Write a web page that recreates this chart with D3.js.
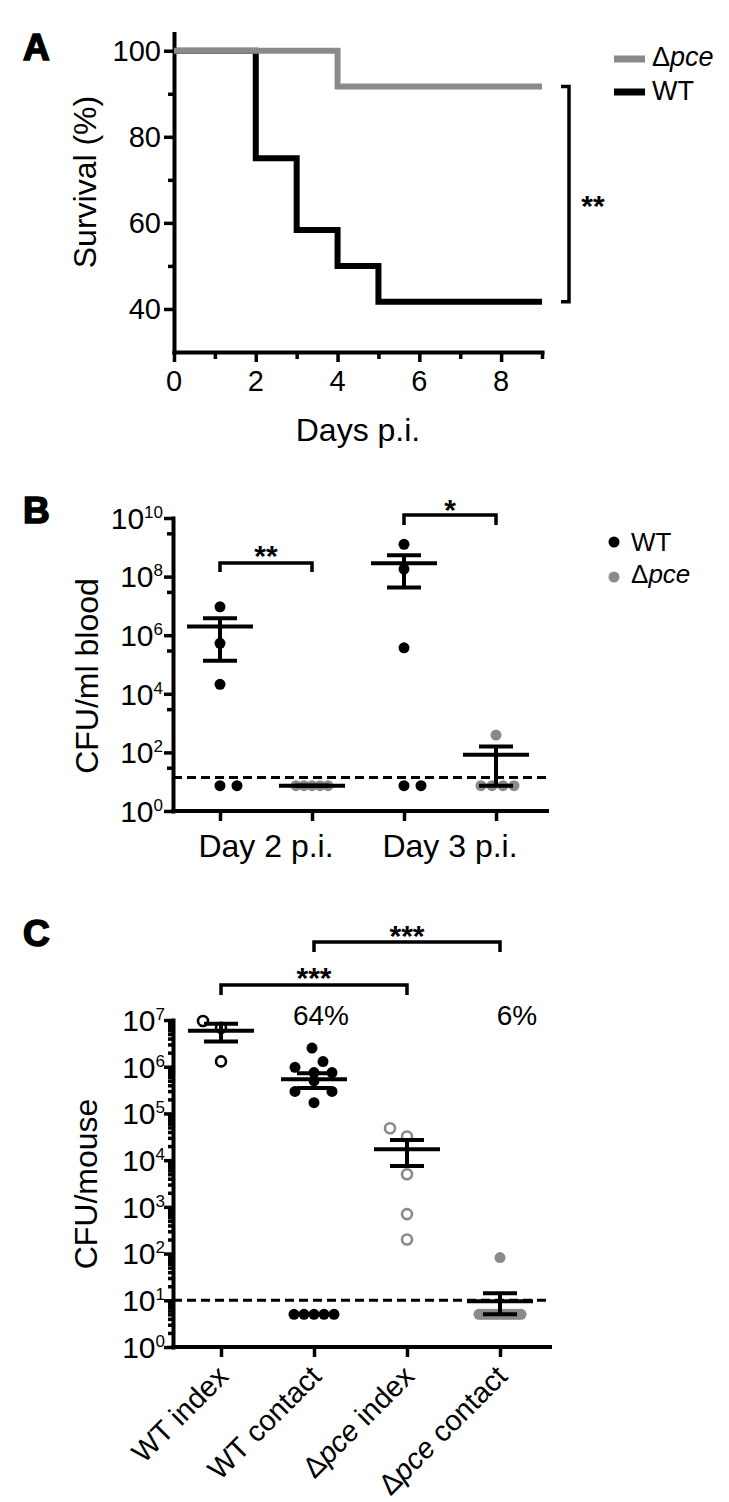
<!DOCTYPE html>
<html><head><meta charset="utf-8">
<script src="https://cdn.jsdelivr.net/npm/d3@7"></script>
<style>
body{margin:0;background:#fff;}
svg text{font-family:"Liberation Sans", Arial, Helvetica, sans-serif; fill:#000;}
</style></head><body>
<svg id="chart" width="729" height="1502"></svg>
<script>
// ================= DATA =================
// Panel A – survival (%)
const survWTDays  = [0, 2, 3, 4, 5, 9];
const survWT      = [100, 75, 58.33, 50, 41.67, 41.67];
const survPceDays = [0, 4, 9];
const survPce     = [100, 91.67, 91.67];
const survXTicks  = [0, 2, 4, 6, 8];
const survXMinor  = [1, 3, 5, 7, 9];
const survYTicks  = [40, 60, 80, 100];
const survYMinor  = [50, 70, 90];

// Panel B – CFU/ml blood
const bloodGroups   = ["Day 2 WT", "Day 2 Δpce", "Day 3 WT", "Day 3 Δpce"];
const bloodDay2WT   = [9.3e6, 5.3e5, 2.1e4, 7.3, 7.3];
const bloodDay2Pce  = [7.3, 7.3, 7.3, 7.3, 7.3];
const bloodDay3WT   = [1.26e9, 1.8e8, 3.7e5, 7.3, 7.3];
const bloodDay3Pce  = [390, 7.3, 7.3, 7.3, 7.3];
const bloodDayLabels = ["Day 2 p.i.", "Day 3 p.i."];
const bloodLimit    = 14;
const bloodMajor    = [1, 1e2, 1e4, 1e6, 1e8, 1e10];
const bloodMinor    = [3e1, 3e3, 3e5, 3e7, 3e9];

// Panel C – CFU/mouse
const mouseGroups     = ["WT index", "WT contact", "Δpce index", "Δpce contact"];
const mouseWTIndex    = [9.5e6, 6.8e6, 1.3e6];
const mouseWTContact  = [2.5e6, 1.29e6, 9.7e5, 7.5e5, 7.5e5, 5e5, 2.95e5, 2.95e5, 1.7e5, 5, 5, 5, 5, 5];
const mousePceIndex   = [4.8e4, 3.2e4, 5e3, 700, 200];
const mousePceContact = [82, 5, 5, 5, 5, 5, 5, 5, 5, 5, 5, 5, 5, 5, 5, 5, 5];
const mousePercent    = ["", "64%", "", "6%"];
const mouseLimit      = 10;
const mouseMajor      = [1, 1e1, 1e2, 1e3, 1e4, 1e5, 1e6, 1e7];

// ================= LAYOUT (jitter offsets in px) =================
const jitB = [[0,0,0,0,17],[-16,-8,0,8,16],[0,0,0,0,17],[0,-15,-4,7,18]];
const jitC = [[-18,0,0],
              [-2,9,-19,0,18,0,-19,18,0,-20,-10,0,10,20],
              [-17,0,0,0,0],
              [0].concat(d3.range(16).map(i => -21 + i*2.8))];

const GRAY = "#8a8a8a";
const svg = d3.select("#chart");

function styleAxis(a, keepDomain) {
  a.selectAll("text").remove();
  if (keepDomain) a.select(".domain").attr("stroke-width", 4).attr("stroke-linecap", "square");
  else a.select(".domain").remove();
  a.selectAll(".tick line").attr("stroke-width", 3.5);
}
function txt(g, x, y, s, size, anchor, weight) {
  return g.append("text").attr("x", x).attr("y", y).attr("text-anchor", anchor || "start")
    .style("font-size", size + "px").style("font-weight", weight || "normal").text(s);
}
function pceText(g, x, y, size, anchor, suffix) {
  const t = g.append("text").attr("x", x).attr("y", y).attr("text-anchor", anchor || "start")
    .style("font-size", size + "px");
  t.append("tspan").text("Δ");
  t.append("tspan").style("font-style", "italic").text("pce");
  if (suffix) t.append("tspan").text(suffix);
  return t;
}
function logLabels(g, y, vals, xRight) {
  vals.forEach(v => {
    const e = Math.round(Math.log10(v));
    const t = g.append("text").attr("x", xRight).attr("y", y(v)).attr("dy", "0.36em")
      .attr("text-anchor", "end").style("font-size", "30px");
    t.append("tspan").text("10");
    t.append("tspan").attr("dy", -11).style("font-size", "17px").text(e);
  });
}
function bracket(g, x1, x2, y, leg) {
  g.append("path").attr("d", `M${x1},${y+leg}V${y}H${x2}V${y+leg}`)
    .attr("fill", "none").attr("stroke", "#000").attr("stroke-width", 3.5);
}
function dots(g, x0, y, vals, offs, color, open) {
  g.selectAll(null).data(vals).join("circle")
    .attr("cx", (d, i) => x0 + offs[i]).attr("cy", d => y(d))
    .attr("r", open ? 5 : 5.5)
    .attr("fill", open ? "#fff" : color)
    .attr("stroke", open ? color : "none").attr("stroke-width", open ? 2.6 : 0);
}
function meanSem(g, x0, y, vals) {
  const m = d3.mean(vals), s = d3.deviation(vals) / Math.sqrt(vals.length);
  const hi = m + s, lo = Math.max(m - s, 1);
  const ln = (x1, y1, x2, y2) => g.append("line").attr("x1", x1).attr("y1", y1).attr("x2", x2).attr("y2", y2)
    .attr("stroke", "#000").attr("stroke-width", 4);
  ln(x0, y(hi), x0, y(lo));
  ln(x0 - 17, y(hi), x0 + 17, y(hi));
  ln(x0 - 17, y(lo), x0 + 17, y(lo));
  ln(x0 - 33, y(m), x0 + 33, y(m));
}

// ================= PANEL LETTERS =================
[["A", 60], ["B", 523], ["C", 946]].forEach(([l, yy]) =>
  txt(svg, 23, yy, l, 37, "start", "bold").attr("stroke", "#000").attr("stroke-width", 1.6));

// ================= PANEL A =================
{
  const g = svg.append("g");
  const x = d3.scaleLinear().domain([0, 9]).range([174, 542]);
  const y = d3.scaleLinear().domain([30, 104]).range([352, 33.5]);

  styleAxis(g.append("g").attr("transform", "translate(0,352)")
    .call(d3.axisBottom(x).tickValues(survXMinor).tickSize(7).tickSizeOuter(0)), false);
  styleAxis(g.append("g").attr("transform", "translate(0,352)")
    .call(d3.axisBottom(x).tickValues(survXTicks).tickSize(10).tickSizeOuter(0)), true);
  styleAxis(g.append("g").attr("transform", "translate(174,0)")
    .call(d3.axisLeft(y).tickValues(survYMinor).tickSize(6).tickSizeOuter(0)), false);
  styleAxis(g.append("g").attr("transform", "translate(174,0)")
    .call(d3.axisLeft(y).tickValues(survYTicks).tickSize(10).tickSizeOuter(0)), true);

  survXTicks.forEach(v => txt(g, x(v), 391, v, 29, "middle"));
  survYTicks.forEach(v => txt(g, 161, y(v), v, 29, "end").attr("dy", "0.36em"));

  txt(g, 358, 441, "Days p.i.", 32, "middle");
  g.append("text").attr("transform", "translate(96,182) rotate(-90)").attr("text-anchor", "middle")
    .style("font-size", "32px").text("Survival (%)");

  const line = d3.line().x(d => x(d[0])).y(d => y(d[1])).curve(d3.curveStepAfter);
  g.append("path").attr("d", line(d3.zip(survWTDays, survWT)))
    .attr("fill", "none").attr("stroke", "#000").attr("stroke-width", 6);
  g.append("path").attr("d", line(d3.zip(survPceDays, survPce)))
    .attr("fill", "none").attr("stroke", GRAY).attr("stroke-width", 6);

  // significance bracket
  g.append("path").attr("d", `M561,${y(survPce[2])}H569V${y(survWT[5])}H561`)
    .attr("fill", "none").attr("stroke", "#000").attr("stroke-width", 3.5);
  txt(g, 593, 216, "**", 30, "middle", "bold");

  // legend
  g.append("line").attr("x1", 614).attr("x2", 645).attr("y1", 59).attr("y2", 59)
    .attr("stroke", GRAY).attr("stroke-width", 7);
  pceText(g, 652, 66, 27);
  g.append("line").attr("x1", 614).attr("x2", 645).attr("y1", 92).attr("y2", 92)
    .attr("stroke", "#000").attr("stroke-width", 7);
  txt(g, 652, 100, "WT", 27);
}

// ================= PANEL B =================
{
  const g = svg.append("g");
  const y = d3.scaleLog().domain([1, 1e10]).range([811, 518]);
  const x = d3.scalePoint().domain(bloodGroups).range([220, 496]);

  styleAxis(g.append("g").attr("transform", "translate(173,0)")
    .call(d3.axisLeft(y).tickValues(bloodMinor).tickSize(6).tickSizeOuter(0)), false);
  styleAxis(g.append("g").attr("transform", "translate(173,0)")
    .call(d3.axisLeft(y).tickValues(bloodMajor).tickSize(9).tickSizeOuter(0)), true);
  const xa = g.append("g").attr("transform", "translate(0,811)")
    .call(d3.axisBottom(x).tickSize(10).tickSizeOuter(0));
  styleAxis(xa, false);
  g.append("line").attr("x1", 173).attr("x2", 547).attr("y1", 811).attr("y2", 811)
    .attr("stroke", "#000").attr("stroke-width", 4).attr("stroke-linecap", "square");

  logLabels(g, y, bloodMajor, 163);
  txt(g, (x(bloodGroups[0]) + x(bloodGroups[1])) / 2, 857, bloodDayLabels[0], 32, "middle");
  txt(g, (x(bloodGroups[2]) + x(bloodGroups[3])) / 2, 857, bloodDayLabels[1], 32, "middle");
  g.append("text").attr("transform", "translate(98,676) rotate(-90)").attr("text-anchor", "middle")
    .style("font-size", "32px").text("CFU/ml blood");

  // detection limit
  g.append("line").attr("x1", 173).attr("x2", 547).attr("y1", y(bloodLimit)).attr("y2", y(bloodLimit))
    .attr("stroke", "#000").attr("stroke-width", 3).attr("stroke-dasharray", "9,5");

  const series = [bloodDay2WT, bloodDay2Pce, bloodDay3WT, bloodDay3Pce];
  const colors = ["#000", GRAY, "#000", GRAY];
  series.forEach((s, i) => dots(g, x(bloodGroups[i]), y, s, jitB[i], colors[i], false));
  series.forEach((s, i) => meanSem(g, x(bloodGroups[i]), y, s));

  bracket(g, x(bloodGroups[0]), x(bloodGroups[1]), 563, 9);
  txt(g, (x(bloodGroups[0]) + x(bloodGroups[1])) / 2, 566, "**", 30, "middle", "bold");
  bracket(g, x(bloodGroups[2]), x(bloodGroups[3]), 515, 10);
  txt(g, (x(bloodGroups[2]) + x(bloodGroups[3])) / 2, 520, "*", 30, "middle", "bold");

  // legend
  g.append("circle").attr("cx", 614).attr("cy", 542).attr("r", 5.5).attr("fill", "#000");
  txt(g, 631, 551, "WT", 26);
  g.append("circle").attr("cx", 614).attr("cy", 577).attr("r", 5.5).attr("fill", GRAY);
  pceText(g, 631, 583, 26);
}

// ================= PANEL C =================
{
  const g = svg.append("g");
  const y = d3.scaleLog().domain([1, 1e7]).range([1347, 1020]);
  const x = d3.scalePoint().domain(mouseGroups).range([221, 500]);

  const minor = [];
  for (let e = 0; e < 7; e++) for (let k = 2; k <= 9; k++) minor.push(k * Math.pow(10, e));
  styleAxis(g.append("g").attr("transform", "translate(173,0)")
    .call(d3.axisLeft(y).tickValues(minor).tickSize(5).tickSizeOuter(0)), false);
  styleAxis(g.append("g").attr("transform", "translate(173,0)")
    .call(d3.axisLeft(y).tickValues(mouseMajor).tickSize(9).tickSizeOuter(0)), true);
  const xa = g.append("g").attr("transform", "translate(0,1347)")
    .call(d3.axisBottom(x).tickSize(10).tickSizeOuter(0));
  styleAxis(xa, false);
  g.append("line").attr("x1", 173).attr("x2", 550).attr("y1", 1347).attr("y2", 1347)
    .attr("stroke", "#000").attr("stroke-width", 4).attr("stroke-linecap", "square");

  logLabels(g, y, mouseMajor, 165);
  g.append("text").attr("transform", "translate(97,1184) rotate(-90)").attr("text-anchor", "middle")
    .style("font-size", "32px").text("CFU/mouse");

  // rotated category labels
  mouseGroups.forEach(c => {
    const t = g.append("text").attr("transform", `translate(${x(c) + 9},1378) rotate(-45)`)
      .attr("text-anchor", "end").style("font-size", "29px");
    if (c.startsWith("Δ")) {
      t.append("tspan").text("Δ");
      t.append("tspan").style("font-style", "italic").text("pce");
      t.append("tspan").text(c.slice(4));
    } else t.text(c);
  });

  g.append("line").attr("x1", 173).attr("x2", 547).attr("y1", y(mouseLimit)).attr("y2", y(mouseLimit))
    .attr("stroke", "#000").attr("stroke-width", 3).attr("stroke-dasharray", "9,5");

  const series = [mouseWTIndex, mouseWTContact, mousePceIndex, mousePceContact];
  const colors = ["#000", "#000", GRAY, GRAY];
  const open = [true, false, true, false];
  series.forEach((s, i) => dots(g, x(mouseGroups[i]), y, s, jitC[i], colors[i], open[i]));
  series.forEach((s, i) => meanSem(g, x(mouseGroups[i]), y, s));

  mousePercent.forEach((p, i) => { if (p) txt(g, x(mouseGroups[i]) + (i === 1 ? 7 : 17), 1025, p, 28, "middle"); });

  bracket(g, x(mouseGroups[0]), x(mouseGroups[2]), 985, 10);
  txt(g, (x(mouseGroups[0]) + x(mouseGroups[2])) / 2, 988, "***", 30, "middle", "bold");
  bracket(g, x(mouseGroups[1]), x(mouseGroups[3]), 942, 10);
  txt(g, (x(mouseGroups[1]) + x(mouseGroups[3])) / 2, 946, "***", 30, "middle", "bold");
}
</script>
</body></html>
